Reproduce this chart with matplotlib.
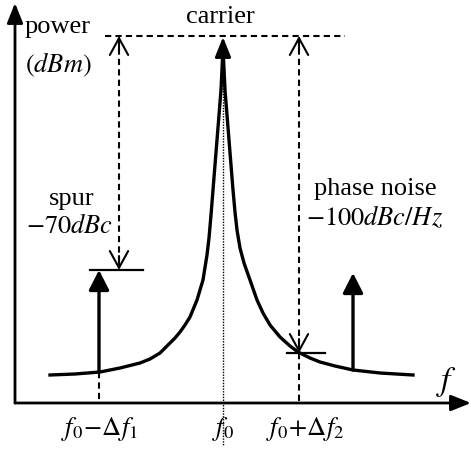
import matplotlib.pyplot as plt

plt.rcParams['font.family'] = ['Liberation Serif', 'DejaVu Serif']
plt.rcParams['mathtext.fontset'] = 'stix'

# spectrum: frequency offset from the vertical axis, power above the baseline
curve_f = [35, 60, 85, 105, 125, 135, 145, 150, 155, 160, 165, 170, 175, 182,
           188, 192, 194, 196, 198, 200, 202, 204, 206, 208,
           210, 212, 214, 216, 218, 220, 222, 225, 229, 235, 242, 248,
           255, 265, 275, 283, 295, 305, 320, 338, 365, 398]
curve_p = [28, 29, 31, 35, 40, 44, 50, 55, 60, 65, 71, 78, 86, 103,
           123, 148, 165, 188, 213, 238, 263, 288, 313, 355,
           313, 288, 263, 238, 213, 191, 173, 155, 140, 123, 103, 90,
           78, 66, 57, 51, 45, 41, 37, 33, 30, 28]

f0 = 208
carrier_level = 366
ref_level = 367
spur_f = [84, 338]
spur_base = [31, 33]
spur_top = [133, 130]
spur_meas_f = 104
noise_f = 284
noise_level = 50

fig = plt.figure(figsize=(4.71, 4.5), dpi=100)
ax = fig.add_axes([0, 0, 1, 1])
ax.set_xlim(-15, 456)
ax.set_ylim(-47, 403)
ax.axis('off')

head = '-|>,head_length=0.55,head_width=0.22'

# axes with arrow heads
ax.annotate('', xy=(0, 400), xytext=(0, 0),
            arrowprops=dict(arrowstyle=head, lw=2, color='k',
                            mutation_scale=22, shrinkA=0, shrinkB=0))
ax.annotate('', xy=(456, 0), xytext=(0, 0),
            arrowprops=dict(arrowstyle=head, lw=2, color='k',
                            mutation_scale=22, shrinkA=0, shrinkB=0))

# carrier + noise skirt
ax.plot(curve_f, curve_p, color='k', lw=2.4, solid_joinstyle='round')
ax.annotate('', xy=(f0, carrier_level), xytext=(f0, carrier_level - 14),
            arrowprops=dict(arrowstyle=head, lw=2, color='k',
                            mutation_scale=22, shrinkA=0, shrinkB=0))
ax.plot([f0, f0], [carrier_level - 12, -42], color='k', lw=1, ls=(0, (1, 1)))

# reference level
ax.plot([90, 330], [ref_level, ref_level], color='k', lw=1.5, ls=(0, (3, 2)))

# spurs
for f, b, t in zip(spur_f, spur_base, spur_top):
    ax.annotate('', xy=(f, t), xytext=(f, b),
                arrowprops=dict(arrowstyle='-|>,head_length=0.55,head_width=0.28',
                                lw=2.4, color='k', mutation_scale=22, shrinkA=0, shrinkB=0))
ax.plot([spur_f[0], spur_f[0]], [spur_base[0], 0], color='k', lw=1.5, ls=(0, (3, 2)))

# spur measurement
ax.plot([75, 128], [spur_top[0], spur_top[0]], color='k', lw=1.6)
ax.plot([spur_meas_f, spur_meas_f], [ref_level - 2, spur_top[0] + 2], color='k', lw=1.5, ls=(0, (3, 2)))
for y0, y1 in [(ref_level - 14, ref_level), (spur_top[0] + 14, spur_top[0])]:
    ax.annotate('', xy=(spur_meas_f, y1), xytext=(spur_meas_f, y0),
                arrowprops=dict(arrowstyle='->,head_length=0.55,head_width=0.3',
                                lw=1.5, color='k', mutation_scale=22, shrinkA=0, shrinkB=0))

# phase noise measurement
ax.plot([272, 310], [noise_level, noise_level], color='k', lw=1.6)
ax.plot([noise_f, noise_f], [ref_level - 2, noise_level + 2], color='k', lw=1.5, ls=(0, (3, 2)))
ax.plot([noise_f, noise_f], [noise_level, 0], color='k', lw=1.5, ls=(0, (3, 2)))
for y0, y1 in [(ref_level - 14, ref_level), (noise_level + 14, noise_level)]:
    ax.annotate('', xy=(noise_f, y1), xytext=(noise_f, y0),
                arrowprops=dict(arrowstyle='->,head_length=0.55,head_width=0.3',
                                lw=1.5, color='k', mutation_scale=22, shrinkA=0, shrinkB=0))

# labels
fs = 19
ax.text(10, 370, 'power', fontsize=fs, ha='left', va='baseline')
ax.text(10, 331, r'$(dBm)$', fontsize=fs, ha='left', va='baseline')
ax.text(205, 380, 'carrier', fontsize=fs, ha='center', va='baseline')
ax.text(57, 198, 'spur', fontsize=fs, ha='center', va='baseline')
ax.text(98, 170, r'$-70dBc$', fontsize=fs, ha='right', va='baseline')
ax.text(360, 208, 'phase noise', fontsize=fs, ha='center', va='baseline')
ax.text(360, 178, r'$-100dBc/Hz$', fontsize=fs, ha='center', va='baseline')
ax.text(432, 13, r'$f$', fontsize=24, ha='center', va='baseline')
ax.text(84, -32, r'$f_0\!-\!\Delta f_1$', fontsize=fs, ha='center', va='baseline')
ax.text(f0, -32, r'$f_0$', fontsize=fs, ha='center', va='baseline')
ax.text(290, -32, r'$f_0\!+\!\Delta f_2$', fontsize=fs, ha='center', va='baseline')

fig.savefig('out.png', dpi=100)
